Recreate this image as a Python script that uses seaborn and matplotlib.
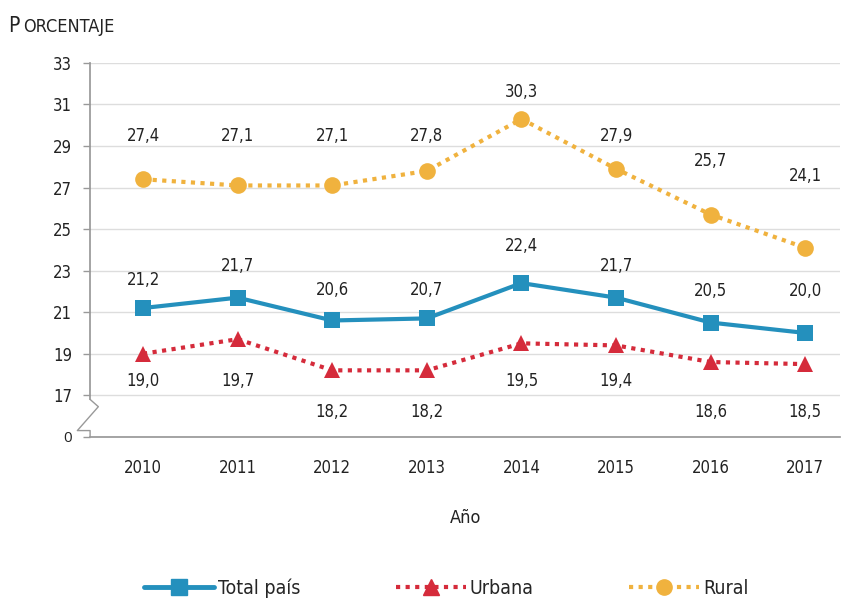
import matplotlib
matplotlib.use("Agg")
import matplotlib.pyplot as plt
import seaborn as sns
import pandas as pd
from matplotlib.lines import Line2D

years = [2010, 2011, 2012, 2013, 2014, 2015, 2016, 2017]
total = [21.2, 21.7, 20.6, 20.7, 22.4, 21.7, 20.5, 20.0]
urbana = [19.0, 19.7, 18.2, 18.2, 19.5, 19.4, 18.6, 18.5]
rural = [27.4, 27.1, 27.1, 27.8, 30.3, 27.9, 25.7, 24.1]
series_names = ["Total país", "Urbana", "Rural"]
ytick_values = [15, 17, 19, 21, 23, 25, 27, 29, 31, 33]
ytick_labels = ["0", "17", "19", "21", "23", "25", "27", "29", "31", "33"]

# label offsets in pixels (styling only)
off_total = [28, 32, 30, 28, 37, 32, 32, 42]
off_urbana = [27, 42, 42, 42, 38, 36, 50, 48]
off_rural = [43, 49, 49, 35, 27, 33, 54, 72]

sns.set_theme(style="white")
plt.rcParams["font.family"] = ["DejaVu Sans"]
plt.rcParams["font.stretch"] = "condensed"

df = pd.DataFrame({
    "Año": years * 3,
    "valor": total + urbana + rural,
    "serie": [series_names[0]] * 8 + [series_names[1]] * 8 + [series_names[2]] * 8,
})

colors = {"Total país": "#2490bd", "Urbana": "#d52b3b", "Rural": "#f0b23e"}
markers = {"Total país": "s", "Urbana": "^", "Rural": "o"}
dashes = {"Total país": "", "Urbana": (1, 1.3), "Rural": (1, 1.3)}

fig = plt.figure(figsize=(8.42, 6.05), dpi=100)
ax = fig.add_axes([0.107, 0.278, 0.891, 0.618])

sns.lineplot(data=df, x="Año", y="valor", hue="serie", style="serie",
             palette=colors, markers=markers, dashes=dashes, ax=ax,
             linewidth=3, markersize=12, markeredgewidth=0, legend=False)

ax.set_xlim(2009.44, 2017.37)
ax.set_ylim(15, 33)
ax.set_yticks(ytick_values)
ax.set_yticklabels(ytick_labels)
ax.set_xticks(years)
ax.set_xticklabels([str(y) for y in years])
ax.tick_params(axis="both", labelsize=12, colors="#222222")
ax.tick_params(axis="y", length=5, width=1, color="#999999", left=True, pad=8)
ax.tick_params(axis="x", length=0, pad=16)
for lab in ax.get_yticklabels():
    if lab.get_text() == "0":
        lab.set_fontfamily(["Open Sans", "DejaVu Sans"])
        lab.set_fontstretch("normal")
        lab.set_fontsize(11)
ax.grid(axis="y", color="#dddddd", linewidth=1)
ax.set_axisbelow(True)
for s in ["top", "right"]:
    ax.spines[s].set_visible(False)
ax.spines["bottom"].set_color("#999999")
ax.spines["left"].set_color("#999999")
ax.spines["left"].set_bounds(16.8, 33)

# axis break zigzag
zz = Line2D([0, 0.011, -0.017, 0, 0], [16.8, 16.45, 15.3, 15.3, 15.0],
            transform=ax.get_yaxis_transform(), color="#999999", lw=1, clip_on=False)
ax.add_line(zz)

def fmt(v):
    return f"{v:.1f}".replace(".", ",")

px = 0.72
for x, v, o in zip(years, total, off_total):
    ax.annotate(fmt(v), (x, v), xytext=(0, o * px), textcoords="offset points",
                ha="center", va="center", fontsize=12, color="#222222")
for x, v, o in zip(years, urbana, off_urbana):
    ax.annotate(fmt(v), (x, v), xytext=(0, -o * px), textcoords="offset points",
                ha="center", va="center", fontsize=12, color="#222222")
for x, v, o in zip(years, rural, off_rural):
    ax.annotate(fmt(v), (x, v), xytext=(0, o * px), textcoords="offset points",
                ha="center", va="center", fontsize=12, color="#222222")

ax.set_xlabel("Año", fontsize=13, color="#222222", labelpad=23)
ax.set_ylabel("")

fig.text(0.010, 0.947, "P", fontsize=15, color="#222222", ha="left", va="baseline")
fig.text(0.028, 0.947, "ORCENTAJE", fontsize=13, color="#222222", ha="left", va="baseline")

handles = [
    Line2D([], [], color=colors["Total país"], marker="s", lw=3.5, markersize=11),
    Line2D([], [], color=colors["Urbana"], marker="^", lw=3, ls=(0, (1, 1.3)), markersize=11),
    Line2D([], [], color=colors["Rural"], marker="o", lw=3, ls=(0, (1, 1.3)), markersize=11),
]
fig.legend(handles, series_names, loc="center", bbox_to_anchor=(0.53, 0.028),
           ncol=3, frameon=False, fontsize=14, handlelength=3.6,
           columnspacing=4.9, handletextpad=0.2)

fig.savefig("out.png", dpi=100)
